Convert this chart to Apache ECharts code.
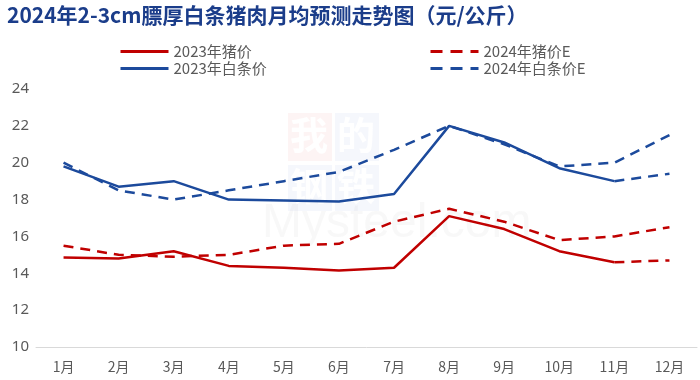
<!DOCTYPE html>
<html><head><meta charset="utf-8">
<script src="https://cdn.jsdelivr.net/npm/echarts@6/dist/echarts.min.js"></script>
<style>html,body{margin:0;padding:0;background:#fff}#c{width:700px;height:380px}</style>
</head><body><div id="c"></div>
<script>
const months = ['1月','2月','3月','4月','5月','6月','7月','8月','9月','10月','11月','12月'];
const pig2023 = [14.85,14.8,15.2,14.4,14.3,14.15,14.3,17.1,16.4,15.2,14.6,null];
const pig2023Tail = [null,null,null,null,null,null,null,null,null,null,14.6,14.7];
const carcass2023 = [19.8,18.7,19.0,18.0,17.95,17.9,18.3,22.0,21.1,19.7,19.0,null];
const carcass2023Tail = [null,null,null,null,null,null,null,null,null,null,19.0,19.4];
const pig2024E = [15.5,15.0,14.9,15.0,15.5,15.6,16.8,17.5,16.8,15.8,16.0,16.5];
const carcass2024E = [20.0,18.5,18.0,18.5,19.0,19.5,20.7,22.0,21.0,19.8,20.0,21.5];

const RED = '#c00000', BLUE = '#1c4a9c';
const chart = echarts.init(document.getElementById('c'));
function line(name, data, color, dashed){
  return {name, type:'line', data, symbol:'none', smooth:false, connectNulls:false,
    lineStyle:{color, width:2.5, type: dashed ? [10,7] : 'solid'}, itemStyle:{color}};
}
const legendCommon = {orient:'vertical', itemWidth:48, itemHeight:12, itemGap:0,
  itemStyle:{opacity:0}, lineStyle:{width:3},
  textStyle:{color:'#5a5a5a', fontSize:15, lineHeight:17, fontFamily:'Noto Sans CJK SC'}};
chart.setOption({
  animation:false,
  title:{text:'2024年2-3cm膘厚白条猪肉月均预测走势图（元/公斤）', left:2, top:0,
    textStyle:{color:'#1b3d8a', fontSize:21, fontWeight:'bold', fontFamily:'Noto Sans CJK SC'}},
  graphic:[
    {type:'rect', left:288, top:113, shape:{width:44,height:48}, style:{fill:'rgba(240,180,180,0.14)'}, z:-1},
    {type:'rect', left:335, top:113, shape:{width:44,height:48}, style:{fill:'rgba(180,195,230,0.13)'}, z:-1},
    {type:'rect', left:288, top:165, shape:{width:44,height:46}, style:{fill:'rgba(180,195,230,0.13)'}, z:-1},
    {type:'rect', left:335, top:165, shape:{width:44,height:46}, style:{fill:'rgba(180,195,230,0.13)'}, z:-1},
    {type:'text', left:290, top:116, style:{text:'我', fill:'#fff', font:'bold 38px "Noto Sans CJK SC"'}, z:-1},
    {type:'text', left:337, top:116, style:{text:'的', fill:'#fff', font:'bold 38px "Noto Sans CJK SC"'}, z:-1},
    {type:'text', left:290, top:167, style:{text:'钢', fill:'#fff', font:'bold 38px "Noto Sans CJK SC"'}, z:-1},
    {type:'text', left:337, top:167, style:{text:'铁', fill:'#fff', font:'bold 38px "Noto Sans CJK SC"'}, z:-1},
    {type:'text', left:262, top:200, style:{text:'Mysteel.com', fill:'rgba(200,200,200,0.12)', font:'48px "Liberation Sans"'}, z:-1}
  ],
  legend:[
    Object.assign({left:114, top:38, data:['2023年猪价','2023年白条价']}, legendCommon),
    Object.assign({left:424, top:38, data:[
      {name:'2024年猪价E', lineStyle:{type:[12,8], width:3}},
      {name:'2024年白条价E', lineStyle:{type:[12,8], width:3}}]}, legendCommon)
  ],
  grid:{left:36, right:3, top:89, bottom:33, containLabel:false},
  xAxis:{type:'category', data:months, boundaryGap:true,
    axisLine:{lineStyle:{color:'#d9d9d9', width:1}}, axisTick:{show:false},
    axisLabel:{color:'#595959', fontSize:14, margin:13, fontFamily:'Noto Sans CJK SC'}},
  yAxis:{type:'value', min:10, max:24, interval:2,
    axisLine:{show:false}, axisTick:{show:false}, splitLine:{show:false},
    axisLabel:{color:'#595959', fontSize:15, margin:7, fontFamily:'Noto Sans'}},
  series:[
    line('2023年猪价', pig2023, RED, false),
    line('2023年白条价', carcass2023, BLUE, false),
    line('2024年猪价E', pig2024E, RED, true),
    line('2024年白条价E', carcass2024E, BLUE, true),
    line('2023年猪价尾', pig2023Tail, RED, true),
    line('2023年白条价尾', carcass2023Tail, BLUE, true)
  ]
});
</script></body></html>
